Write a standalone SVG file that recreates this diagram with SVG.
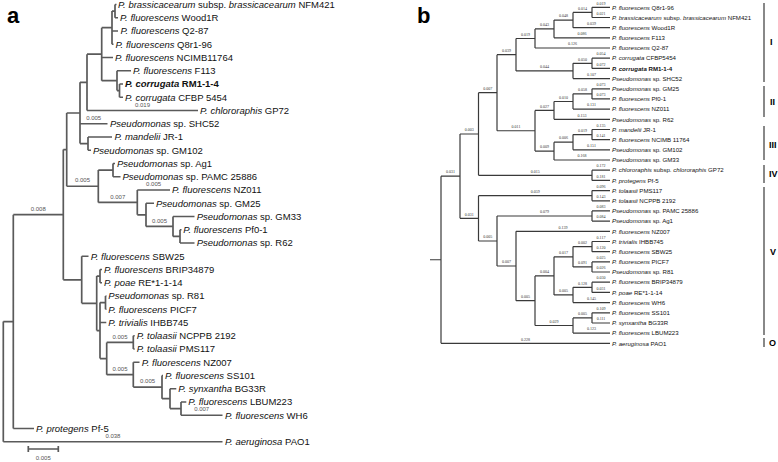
<svg xmlns="http://www.w3.org/2000/svg" width="778" height="462" viewBox="0 0 778 462">
<style>
.bg{fill:#fff}
.ea{fill:none;stroke:#5a5a5a;stroke-width:1.7}
.eb{fill:none;stroke:#3a3a3a;stroke-width:1.2}
.ta{font-family:"Liberation Sans",Arial,sans-serif;font-size:9.5px;fill:#111}
.tb{font-family:"Liberation Sans",Arial,sans-serif;font-size:6.1px;fill:#111}
.i{font-style:italic}
.bd{font-weight:bold}
.la{font-family:"Liberation Sans",Arial,sans-serif;font-size:6px;fill:#555;text-anchor:middle}
.lb{font-family:"Liberation Serif","Times New Roman",serif;font-size:4px;fill:#333;text-anchor:middle}
.pl{font-family:"Liberation Sans",Arial,sans-serif;font-size:22px;font-weight:bold;fill:#000}
.gl{font-family:"Liberation Sans",Arial,sans-serif;font-size:9px;font-weight:bold;fill:#000}
</style>
<rect class="bg" x="0" y="0" width="778" height="462"/>
<text class="pl" x="7" y="23">a</text>
<text class="pl" x="417" y="23">b</text>

<g id="connectors-a">
<path class="ea" d="M3.3,321.6V441.75M3.3,321.6H13.3M3.3,441.75H222.5
M13.3,214.7V428.5M13.3,214.7H63.3M13.3,428.5H34
M63.3,149.6V279.8M63.3,149.6H66.7M63.3,279.8H81.7
M66.7,113V186.25M66.7,113H80M66.7,186.25H98.3
M80,82.35V143.6M80,82.35H87M80,123.75H107.5M80,143.6H88
M87,54.2V110.5M87,54.2H101.7M87,110.5H198
M101.7,27.7V80.7M101.7,27.7H112M101.7,57.5H113M101.7,80.7H117
M112,11.1V44.25M112,11.1H115M112,31H118M112,44.25H113.5
M115,4.5V17.75M115,4.5H116.5M115,17.75H118
M117,70.75V90.6M117,70.75H131M117,90.6H119.5
M119.5,84V97.25M119.5,84H123M119.5,97.25H123
M88,137V150.25M88,137H112M88,150.25H91
M98.3,170.1V202.4M98.3,170.1H113M98.3,202.4H137.3
M113,163.5V176.75M113,163.5H115M113,176.75H120.5
M137.3,190V214.85M137.3,190H170M137.3,214.85H146
M146,203.25V226.45M146,203.25H154M146,226.45H173
M173,216.5V236.4M173,216.5H194.5M173,236.4H180
M180,229.75V243M180,229.75H181.5M180,243H194.5
M81.7,256.25V303.35M81.7,256.25H88.5M81.7,303.35H96.7
M96.7,276.1V330.6M96.7,276.1H100M96.7,330.6H100
M100,269.5V282.75M100,269.5H102M100,282.75H102
M100,302.6V358.55M100,302.6H105.5M100,322.5H106.3M100,358.55H106.7
M105.5,296V309.25M105.5,296H106.5M105.5,309.25H106.5
M106.7,342.4V374.7M106.7,342.4H133.3M106.7,374.7H133.3
M133.3,335.75V349M133.3,335.75H134.7M133.3,349H134.7
M133.3,362.25V387.1M133.3,362.25H139.5M133.3,387.1H162
M162,375.5V398.7M162,375.5H163M162,398.7H170
M170,388.75V408.6M170,388.75H176.3M170,408.6H181
M181,402V415.25M181,402H186.3M181,415.25H222.5"/>
<path class="ea" d="M28.3,449H58.3M28.3,446V452M58.3,446V452"/>
</g>

<g id="labels-a">
<text class="la" x="142.5" y="106.7">0.019</text>
<text class="la" x="93.7" y="119.9">0.005</text>
<text class="la" x="82.5" y="182.4">0.005</text>
<text class="la" x="117.8" y="198.6">0.007</text>
<text class="la" x="153.6" y="186.2">0.005</text>
<text class="la" x="159.5" y="222.6">0.005</text>
<text class="la" x="38.3" y="210.9">0.008</text>
<text class="la" x="120" y="338.6">0.005</text>
<text class="la" x="120" y="370.9">0.005</text>
<text class="la" x="147.6" y="383.3">0.005</text>
<text class="la" x="201.7" y="411.4">0.007</text>
<text class="la" x="112.9" y="437.9">0.038</text>
<text class="la" x="43.3" y="459.5">0.005</text>
</g>

<g id="leaves-a">
<g id="a0"><text class="ta" x="118" y="7.8"><tspan class="i">P. brassicacearum</tspan> subsp. <tspan class="i">brassicacearum</tspan> NFM421</text></g>
<g id="a1"><text class="ta" x="120" y="21.05"><tspan class="i">P. fluorescens</tspan> Wood1R</text></g>
<g id="a2"><text class="ta" x="120.5" y="34.3"><tspan class="i">P. fluorescens</tspan> Q2-87</text></g>
<g id="a3"><text class="ta" x="115.5" y="47.55"><tspan class="i">P. fluorescens</tspan> Q8r1-96</text></g>
<g id="a4"><text class="ta" x="115" y="60.8"><tspan class="i">P. fluorescens</tspan> NCIMB11764</text></g>
<g id="a5"><text class="ta" x="133" y="74.05"><tspan class="i">P. fluorescens</tspan> F113</text></g>
<g id="a6"><text class="ta bd" x="125" y="87.3"><tspan class="i">P. corrugata</tspan> RM1-1-4</text></g>
<g id="a7"><text class="ta" x="125" y="100.55"><tspan class="i">P. corrugata</tspan> CFBP 5454</text></g>
<g id="a8"><text class="ta" x="200" y="113.8"><tspan class="i">P. chlororaphis</tspan> GP72</text></g>
<g id="a9"><text class="ta" x="110" y="127.05"><tspan class="i">Pseudomonas</tspan> sp. SHC52</text></g>
<g id="a10"><text class="ta" x="114.5" y="140.3"><tspan class="i">P. mandelii</tspan> JR-1</text></g>
<g id="a11"><text class="ta" x="93" y="153.55"><tspan class="i">Pseudomonas</tspan> sp. GM102</text></g>
<g id="a12"><text class="ta" x="117" y="166.8"><tspan class="i">Pseudomonas</tspan> sp. Ag1</text></g>
<g id="a13"><text class="ta" x="122.5" y="180.05"><tspan class="i">Pseudomonas</tspan> sp. PAMC 25886</text></g>
<g id="a14"><text class="ta" x="172" y="193.3"><tspan class="i">P. fluorescens</tspan> NZ011</text></g>
<g id="a15"><text class="ta" x="156" y="206.55"><tspan class="i">Pseudomonas</tspan> sp. GM25</text></g>
<g id="a16"><text class="ta" x="196.7" y="219.8"><tspan class="i">Pseudomonas</tspan> sp. GM33</text></g>
<g id="a17"><text class="ta" x="183.3" y="233.05"><tspan class="i">P. fluorescens</tspan> Pf0-1</text></g>
<g id="a18"><text class="ta" x="196.7" y="246.3"><tspan class="i">Pseudomonas</tspan> sp. R62</text></g>
<g id="a19"><text class="ta" x="90.7" y="259.55"><tspan class="i">P. fluorescens</tspan> SBW25</text></g>
<g id="a20"><text class="ta" x="104" y="272.8"><tspan class="i">P. fluorescens</tspan> BRIP34879</text></g>
<g id="a21"><text class="ta" x="104" y="286.05"><tspan class="i">P. poae</tspan> RE*1-1-14</text></g>
<g id="a22"><text class="ta" x="108.3" y="299.3"><tspan class="i">Pseudomonas</tspan> sp. R81</text></g>
<g id="a23"><text class="ta" x="108.3" y="312.55"><tspan class="i">P. fluorescens</tspan> PICF7</text></g>
<g id="a24"><text class="ta" x="108.3" y="325.8"><tspan class="i">P. trivialis</tspan> IHBB745</text></g>
<g id="a25"><text class="ta" x="136.7" y="339.05"><tspan class="i">P. tolaasii</tspan> NCPPB 2192</text></g>
<g id="a26"><text class="ta" x="136.7" y="352.3"><tspan class="i">P. tolaasii</tspan> PMS117</text></g>
<g id="a27"><text class="ta" x="141.7" y="365.55"><tspan class="i">P. fluorescens</tspan> NZ007</text></g>
<g id="a28"><text class="ta" x="165" y="378.8"><tspan class="i">P. fluorescens</tspan> SS101</text></g>
<g id="a29"><text class="ta" x="178.3" y="392.05"><tspan class="i">P. synxantha</tspan> BG33R</text></g>
<g id="a30"><text class="ta" x="188.3" y="405.3"><tspan class="i">P. fluorescens</tspan> LBUM223</text></g>
<g id="a31"><text class="ta" x="225" y="418.55"><tspan class="i">P. fluorescens</tspan> WH6</text></g>
<g id="a32"><text class="ta" x="36" y="431.8"><tspan class="i">P. protegens</tspan> Pf-5</text></g>
<g id="a33"><text class="ta" x="225" y="445.05"><tspan class="i">P. aeruginosa</tspan> PAO1</text></g>
</g>

<g id="connectors-b">
<path class="eb" d="M430,259.75H441M441,176.2V343.3M441,176.2H460M441,343.3H610
M460,134V218.35M460,134H478.5M460,218.35H478.5
M478.5,92.7V175.3M478.5,92.7H497M478.5,175.3H592
M497,54.7V130.75M497,54.7H516M497,130.75H535
M516,38.5V70.95M516,38.5H535M516,70.95H573
M535,28.9V48M535,28.9H554M535,48H610
M554,20.05V37.8M554,20.05H573M554,37.8H610
M573,12.4V27.7M573,12.4H592M573,27.7H610
M592,7.3V17.5M592,7.3H610M592,17.5H610
M573,63.3V78.6M573,63.3H592M573,78.6H610
M592,58.2V68.4M592,58.2H610M592,68.4H610
M535,110.4V151.1M535,110.4H554M535,151.1H554
M554,101.5V119.3M554,101.5H573M554,119.3H610
M573,93.85V109.1M573,93.85H592M573,109.1H610
M592,88.8V98.9M592,88.8H610M592,98.9H610
M554,142.2V160M554,142.2H573M554,160H610
M573,134.6V149.8M573,134.6H592M573,149.8H610
M592,129.5V139.7M592,129.5H610M592,139.7H610
M592,170.2V180.4M592,170.2H610M592,180.4H610
M478.5,195.7V241M478.5,195.7H592M478.5,241H497
M592,190.6V200.8M592,190.6H610M592,200.8H610
M497,216V266M497,216H592M497,266H516
M592,210.9V221.1M592,210.9H610M592,221.1H610
M516,231.3V300.7M516,231.3H610M516,300.7H535
M535,275.9V325.5M535,275.9H554M535,325.5H573
M554,256.8V294.95M554,256.8H573M554,294.95H573
M573,246.6V266.95M573,246.6H592M573,266.95H592
M592,241.5V251.7M592,241.5H610M592,251.7H610
M592,261.9V272M592,261.9H610M592,272H610
M573,287.3V302.6M573,287.3H592M573,302.6H610
M592,282.2V292.4M592,282.2H610M592,292.4H610
M573,317.9V333.1M573,317.9H592M573,333.1H610
M592,312.8V323M592,312.8H610M592,323H610"/>
<path class="eb" d="M764,3V82M764,86V117M764,126V160M764,165V183M764,187V335M764,338V347"/>
</g>

<g id="labels-b">
<text class="lb" x="450.5" y="173.4">0.031</text>
<text class="lb" x="525.5" y="340.5">0.228</text>
<text class="lb" x="469.25" y="131.2">0.003</text>
<text class="lb" x="469.25" y="215.55">0.031</text>
<text class="lb" x="487.75" y="89.9">0.007</text>
<text class="lb" x="535.25" y="172.5">0.015</text>
<text class="lb" x="506.5" y="51.9">0.039</text>
<text class="lb" x="516" y="127.95">0.011</text>
<text class="lb" x="525.5" y="35.7">0.019</text>
<text class="lb" x="544.5" y="68.15">0.044</text>
<text class="lb" x="544.5" y="26.1">0.043</text>
<text class="lb" x="572.5" y="45.2">0.126</text>
<text class="lb" x="563.5" y="17.25">0.048</text>
<text class="lb" x="582" y="35">0.086</text>
<text class="lb" x="582.5" y="9.6">0.014</text>
<text class="lb" x="591.5" y="24.9">0.039</text>
<text class="lb" x="601" y="4.5">0.019</text>
<text class="lb" x="601" y="14.7">0.021</text>
<text class="lb" x="582.5" y="60.5">0.050</text>
<text class="lb" x="591.5" y="75.8">0.107</text>
<text class="lb" x="601" y="55.4">0.054</text>
<text class="lb" x="601" y="65.6">0.072</text>
<text class="lb" x="544.5" y="107.6">0.027</text>
<text class="lb" x="544.5" y="148.3">0.009</text>
<text class="lb" x="563.5" y="98.7">0.010</text>
<text class="lb" x="582" y="116.5">0.153</text>
<text class="lb" x="582.5" y="91.05">0.058</text>
<text class="lb" x="591.5" y="106.3">0.131</text>
<text class="lb" x="601" y="86">0.073</text>
<text class="lb" x="601" y="96.1">0.073</text>
<text class="lb" x="563.5" y="139.4">0.006</text>
<text class="lb" x="582" y="157.2">0.168</text>
<text class="lb" x="582.5" y="131.8">0.019</text>
<text class="lb" x="591.5" y="147">0.151</text>
<text class="lb" x="601" y="126.7">0.135</text>
<text class="lb" x="601" y="136.9">0.141</text>
<text class="lb" x="601" y="167.4">0.172</text>
<text class="lb" x="601" y="177.6">0.181</text>
<text class="lb" x="535.25" y="192.9">0.059</text>
<text class="lb" x="487.75" y="238.2">0.005</text>
<text class="lb" x="601" y="187.8">0.096</text>
<text class="lb" x="601" y="198">0.143</text>
<text class="lb" x="544.5" y="213.2">0.079</text>
<text class="lb" x="506.5" y="263.2">0.007</text>
<text class="lb" x="601" y="208.1">0.083</text>
<text class="lb" x="601" y="218.3">0.084</text>
<text class="lb" x="563" y="228.5">0.139</text>
<text class="lb" x="525.5" y="297.9">0.005</text>
<text class="lb" x="544.5" y="273.1">0.004</text>
<text class="lb" x="554" y="322.7">0.029</text>
<text class="lb" x="563.5" y="254">0.017</text>
<text class="lb" x="563.5" y="292.15">0.005</text>
<text class="lb" x="582.5" y="243.8">0.002</text>
<text class="lb" x="582.5" y="264.15">0.091</text>
<text class="lb" x="601" y="238.7">0.117</text>
<text class="lb" x="601" y="248.9">0.120</text>
<text class="lb" x="601" y="259.1">0.025</text>
<text class="lb" x="601" y="269.2">0.026</text>
<text class="lb" x="582.5" y="284.5">0.128</text>
<text class="lb" x="591.5" y="299.8">0.145</text>
<text class="lb" x="601" y="279.4">0.030</text>
<text class="lb" x="601" y="289.6">0.031</text>
<text class="lb" x="582.5" y="315.1">0.005</text>
<text class="lb" x="591.5" y="330.3">0.123</text>
<text class="lb" x="601" y="310">0.109</text>
<text class="lb" x="601" y="320.2">0.111</text>
</g>

<g id="leaves-b">
<g id="b0"><text class="tb" x="612" y="9.5"><tspan class="i">P. fluorescens</tspan> Q8r1-96</text></g>
<g id="b1"><text class="tb" x="612" y="19.7"><tspan class="i">P. brassicacearum</tspan> subsp. <tspan class="i">brassicacearum</tspan> NFM421</text></g>
<g id="b2"><text class="tb" x="612" y="29.9"><tspan class="i">P. fluorescens</tspan> Wood1R</text></g>
<g id="b3"><text class="tb" x="612" y="40"><tspan class="i">P. fluorescens</tspan> F113</text></g>
<g id="b4"><text class="tb" x="612" y="50.2"><tspan class="i">P. fluorescens</tspan> Q2-87</text></g>
<g id="b5"><text class="tb" x="612" y="60.4"><tspan class="i">P. corrugata</tspan> CFBP5454</text></g>
<g id="b6"><text class="tb bd" x="612" y="70.6"><tspan class="i">P. corrugata</tspan> RM1-1-4</text></g>
<g id="b7"><text class="tb" x="612" y="80.8"><tspan class="i">Pseudomonas</tspan> sp. SHC52</text></g>
<g id="b8"><text class="tb" x="612" y="91"><tspan class="i">Pseudomonas</tspan> sp. GM25</text></g>
<g id="b9"><text class="tb" x="612" y="101.1"><tspan class="i">P. fluorescens</tspan> Pf0-1</text></g>
<g id="b10"><text class="tb" x="612" y="111.3"><tspan class="i">P. fluorescens</tspan> NZ011</text></g>
<g id="b11"><text class="tb" x="612" y="121.5"><tspan class="i">Pseudomonas</tspan> sp. R62</text></g>
<g id="b12"><text class="tb" x="612" y="131.7"><tspan class="i">P. mandelii</tspan> JR-1</text></g>
<g id="b13"><text class="tb" x="612" y="141.9"><tspan class="i">P. fluorescens</tspan> NCIMB 11764</text></g>
<g id="b14"><text class="tb" x="612" y="152"><tspan class="i">Pseudomonas</tspan> sp. GM102</text></g>
<g id="b15"><text class="tb" x="612" y="162.2"><tspan class="i">Pseudomonas</tspan> sp. GM33</text></g>
<g id="b16"><text class="tb" x="612" y="172.4"><tspan class="i">P. chlororaphis</tspan> subsp. <tspan class="i">chlororaphis</tspan> GP72</text></g>
<g id="b17"><text class="tb" x="612" y="182.6"><tspan class="i">P. protegens</tspan> Pf-5</text></g>
<g id="b18"><text class="tb" x="612" y="192.8"><tspan class="i">P. tolaasii</tspan> PMS117</text></g>
<g id="b19"><text class="tb" x="612" y="203"><tspan class="i">P. tolaasii</tspan> NCPPB 2192</text></g>
<g id="b20"><text class="tb" x="612" y="213.1"><tspan class="i">Pseudomonas</tspan> sp. PAMC 25886</text></g>
<g id="b21"><text class="tb" x="612" y="223.3"><tspan class="i">Pseudomonas</tspan> sp. Ag1</text></g>
<g id="b22"><text class="tb" x="612" y="233.5"><tspan class="i">P. fluorescens</tspan> NZ007</text></g>
<g id="b23"><text class="tb" x="612" y="243.7"><tspan class="i">P. trivialis</tspan> IHBB745</text></g>
<g id="b24"><text class="tb" x="612" y="253.9"><tspan class="i">P. fluorescens</tspan> SBW25</text></g>
<g id="b25"><text class="tb" x="612" y="264.1"><tspan class="i">P. fluorescens</tspan> PICF7</text></g>
<g id="b26"><text class="tb" x="612" y="274.2"><tspan class="i">Pseudomonas</tspan> sp. R81</text></g>
<g id="b27"><text class="tb" x="612" y="284.4"><tspan class="i">P. fluorescens</tspan> BRIP34879</text></g>
<g id="b28"><text class="tb" x="612" y="294.6"><tspan class="i">P. poae</tspan> RE*1-1-14</text></g>
<g id="b29"><text class="tb" x="612" y="304.8"><tspan class="i">P. fluorescens</tspan> WH6</text></g>
<g id="b30"><text class="tb" x="612" y="315"><tspan class="i">P. fluorescens</tspan> SS101</text></g>
<g id="b31"><text class="tb" x="612" y="325.2"><tspan class="i">P. synxantha</tspan> BG33R</text></g>
<g id="b32"><text class="tb" x="612" y="335.3"><tspan class="i">P. fluorescens</tspan> LBUM223</text></g>
<g id="b33"><text class="tb" x="612" y="345.5"><tspan class="i">P. aeruginosa</tspan> PAO1</text></g>
</g>

<g id="groups-b">
<text class="gl" x="770" y="45.2">I</text>
<text class="gl" x="770" y="105.2">II</text>
<text class="gl" x="769" y="148.2">III</text>
<text class="gl" x="769" y="177">IV</text>
<text class="gl" x="770" y="254.5">V</text>
<text class="gl" x="769" y="345.5">O</text>
</g>
</svg>
